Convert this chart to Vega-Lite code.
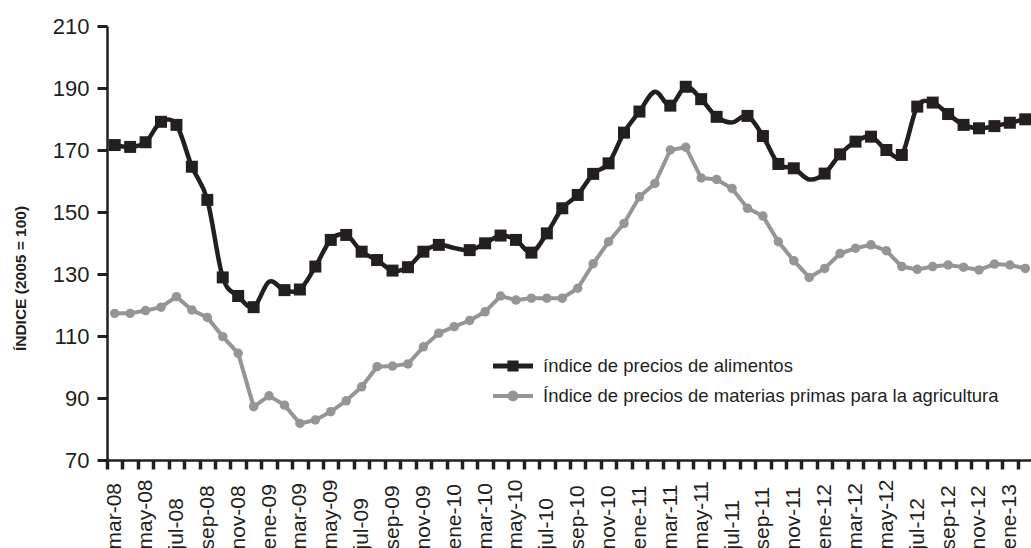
{
  "$schema": "https://vega.github.io/schema/vega-lite/v6.json",
  "autosize": {"type": "none"},
  "padding": {"left": 107, "top": 26, "right": 0, "bottom": 88},
  "width": 926,
  "height": 434,
  "background": "white",
  "config": {
    "view": {"stroke": null},
    "font": "Liberation Sans",
    "axis": {"labelFont": "Liberation Sans", "titleFont": "Liberation Sans", "labelColor": "#231f20", "titleColor": "#231f20", "domainColor": "#231f20", "tickColor": "#231f20", "grid": false}
  },
  "data": {
    "values": [
      {"mes": "mar-08", "alimentos": 171.6, "materias": 117.3},
      {"mes": "abr-08", "alimentos": 171.0, "materias": 117.3},
      {"mes": "may-08", "alimentos": 172.5, "materias": 118.2},
      {"mes": "jun-08", "alimentos": 179.1, "materias": 119.3},
      {"mes": "jul-08", "alimentos": 178.1, "materias": 122.7},
      {"mes": "ago-08", "alimentos": 164.6, "materias": 118.4},
      {"mes": "sep-08", "alimentos": 153.9, "materias": 116.0},
      {"mes": "oct-08", "alimentos": 128.9, "materias": 109.8},
      {"mes": "nov-08", "alimentos": 122.9, "materias": 104.4},
      {"mes": "dic-08", "alimentos": 119.3, "materias": 87.2},
      {"mes": "ene-09", "alimentos": 127.5, "materias": 90.7},
      {"mes": "feb-09", "alimentos": 124.8, "materias": 87.7},
      {"mes": "mar-09", "alimentos": 125.0, "materias": 81.8},
      {"mes": "abr-09", "alimentos": 132.4, "materias": 82.9},
      {"mes": "may-09", "alimentos": 141.0, "materias": 85.6},
      {"mes": "jun-09", "alimentos": 142.6, "materias": 89.1},
      {"mes": "jul-09", "alimentos": 137.2, "materias": 93.6},
      {"mes": "ago-09", "alimentos": 134.5, "materias": 100.1},
      {"mes": "sep-09", "alimentos": 131.1, "materias": 100.3},
      {"mes": "oct-09", "alimentos": 132.2, "materias": 101.0},
      {"mes": "nov-09", "alimentos": 137.2, "materias": 106.5},
      {"mes": "dic-09", "alimentos": 139.4, "materias": 110.9},
      {"mes": "ene-10", "alimentos": 138.4, "materias": 113.0},
      {"mes": "feb-10", "alimentos": 137.7, "materias": 115.0},
      {"mes": "mar-10", "alimentos": 139.9, "materias": 117.8},
      {"mes": "abr-10", "alimentos": 142.4, "materias": 122.9},
      {"mes": "may-10", "alimentos": 141.0, "materias": 121.6},
      {"mes": "jun-10", "alimentos": 136.9, "materias": 122.2},
      {"mes": "jul-10", "alimentos": 143.1, "materias": 122.2},
      {"mes": "ago-10", "alimentos": 151.2, "materias": 122.2},
      {"mes": "sep-10", "alimentos": 155.5, "materias": 125.4},
      {"mes": "oct-10", "alimentos": 162.3, "materias": 133.3},
      {"mes": "nov-10", "alimentos": 165.7, "materias": 140.4},
      {"mes": "dic-10", "alimentos": 175.6, "materias": 146.3},
      {"mes": "ene-11", "alimentos": 182.4, "materias": 154.9},
      {"mes": "feb-11", "alimentos": 188.8, "materias": 159.2},
      {"mes": "mar-11", "alimentos": 184.3, "materias": 170.0},
      {"mes": "abr-11", "alimentos": 190.4, "materias": 170.9},
      {"mes": "may-11", "alimentos": 186.4, "materias": 161.0},
      {"mes": "jun-11", "alimentos": 180.7, "materias": 160.5},
      {"mes": "jul-11", "alimentos": 178.9, "materias": 157.6},
      {"mes": "ago-11", "alimentos": 181.0, "materias": 151.2},
      {"mes": "sep-11", "alimentos": 174.5, "materias": 148.7},
      {"mes": "oct-11", "alimentos": 165.5, "materias": 140.4},
      {"mes": "nov-11", "alimentos": 164.1, "materias": 134.3},
      {"mes": "dic-11", "alimentos": 160.5, "materias": 128.9},
      {"mes": "ene-12", "alimentos": 162.4, "materias": 131.8},
      {"mes": "feb-12", "alimentos": 168.6, "materias": 136.6},
      {"mes": "mar-12", "alimentos": 172.7, "materias": 138.3},
      {"mes": "abr-12", "alimentos": 174.3, "materias": 139.4},
      {"mes": "may-12", "alimentos": 170.0, "materias": 137.5},
      {"mes": "jun-12", "alimentos": 168.4, "materias": 132.4},
      {"mes": "jul-12", "alimentos": 184.0, "materias": 131.5},
      {"mes": "ago-12", "alimentos": 185.3, "materias": 132.4},
      {"mes": "sep-12", "alimentos": 181.6, "materias": 132.9},
      {"mes": "oct-12", "alimentos": 178.1, "materias": 132.2},
      {"mes": "nov-12", "alimentos": 177.0, "materias": 131.3},
      {"mes": "dic-12", "alimentos": 177.7, "materias": 133.2},
      {"mes": "ene-13", "alimentos": 178.8, "materias": 132.9},
      {"mes": "feb-13", "alimentos": 179.9, "materias": 131.8}
    ]
  },
  "encoding": {
    "x": {
      "field": "mes", "type": "ordinal", "sort": null,
      "scale": {"type": "band", "paddingInner": 0, "paddingOuter": 0},
      "axis": {
        "title": null, "labelAngle": -90, "labelAlign": "left", "labelBaseline": "middle",
        "labelFontSize": 21, "labelPadding": 80, "labelOverlap": false,
        "labelExpr": "indexof(['mar','may','jul','sep','nov','ene'], slice(datum.value, 0, 3)) >= 0 ? datum.value : ''",
        "tickOffset": -7.72, "labelOffset": 7.72, "tickSize": 9, "tickWidth": 3.5, "domainWidth": 2.5
      }
    }
  },
  "layer": [
    {
      "mark": {"type": "line", "interpolate": "linear", "strokeWidth": 4},
      "encoding": {
        "y": {"field": "materias", "type": "quantitative",
          "scale": {"domain": [70, 210], "nice": false, "zero": false},
          "axis": {"values": [70, 90, 110, 130, 150, 170, 190, 210], "labelFontSize": 22, "labelPadding": 8, "tickSize": 10, "tickWidth": 3, "domainWidth": 2.5,
            "title": "ÍNDICE (2005 = 100)", "titleFont": "Liberation Sans", "titleFontSize": 15.5, "titleFontWeight": "bold", "titleX": -87, "titleY": 252, "titleAngle": -90, "titleAlign": "center", "titleBaseline": "middle"}},
        "color": {"datum": "Índice de precios de materias primas para la agricultura",
          "scale": {"domain": ["índice de precios de alimentos", "Índice de precios de materias primas para la agricultura"], "range": ["#231f20", "#939598"]},
          "legend": {
            "title": null, "orient": "none", "legendX": 386, "legendY": 320, "padding": 0,
            "labelFontSize": 18.5, "labelFont": "Liberation Sans", "labelColor": "#231f20", "labelLimit": 0, "labelOffset": 10, "rowPadding": -2, "symbolSize": 1600,
            "encode": {"symbols": {"update": {
              "shape": {"signal": "datum.value == 'índice de precios de alimentos' ? 'M-1,-0.125H-0.28V-0.28H0.28V-0.125H1V0.125H0.28V0.28H-0.28V0.125H-1Z' : 'M-1,-0.1H-0.25V0.1H-1Z M0.25,-0.1H1V0.1H0.25Z M-0.27,0A0.27,0.27 0 1,1 0.27,0A0.27,0.27 0 1,1 -0.27,0Z'"},
              "fill": {"signal": "datum.value == 'índice de precios de alimentos' ? '#231f20' : '#939598'"},
              "stroke": {"value": "transparent"},
              "strokeWidth": {"value": 0},
              "size": {"value": 1600},
              "opacity": {"value": 1}
            }}}
          }}
      }
    },
    {
      "mark": {"type": "point", "shape": "circle", "filled": true, "size": 90, "opacity": 1},
      "encoding": {
        "y": {"field": "materias", "type": "quantitative"},
        "color": {"datum": "Índice de precios de materias primas para la agricultura"}
      }
    },
    {
      "mark": {"type": "line", "interpolate": "cardinal", "strokeWidth": 4.5},
      "encoding": {
        "y": {"field": "alimentos", "type": "quantitative"},
        "color": {"datum": "índice de precios de alimentos"}
      }
    },
    {
      "transform": [{"filter": {"not": {"field": "mes", "oneOf": ["ene-09", "ene-10", "feb-11", "jul-11", "dic-11"]}}}],
      "mark": {"type": "point", "shape": "square", "filled": true, "size": 144, "opacity": 1},
      "encoding": {
        "y": {"field": "alimentos", "type": "quantitative"},
        "color": {"datum": "índice de precios de alimentos"}
      }
    }
  ]
}
